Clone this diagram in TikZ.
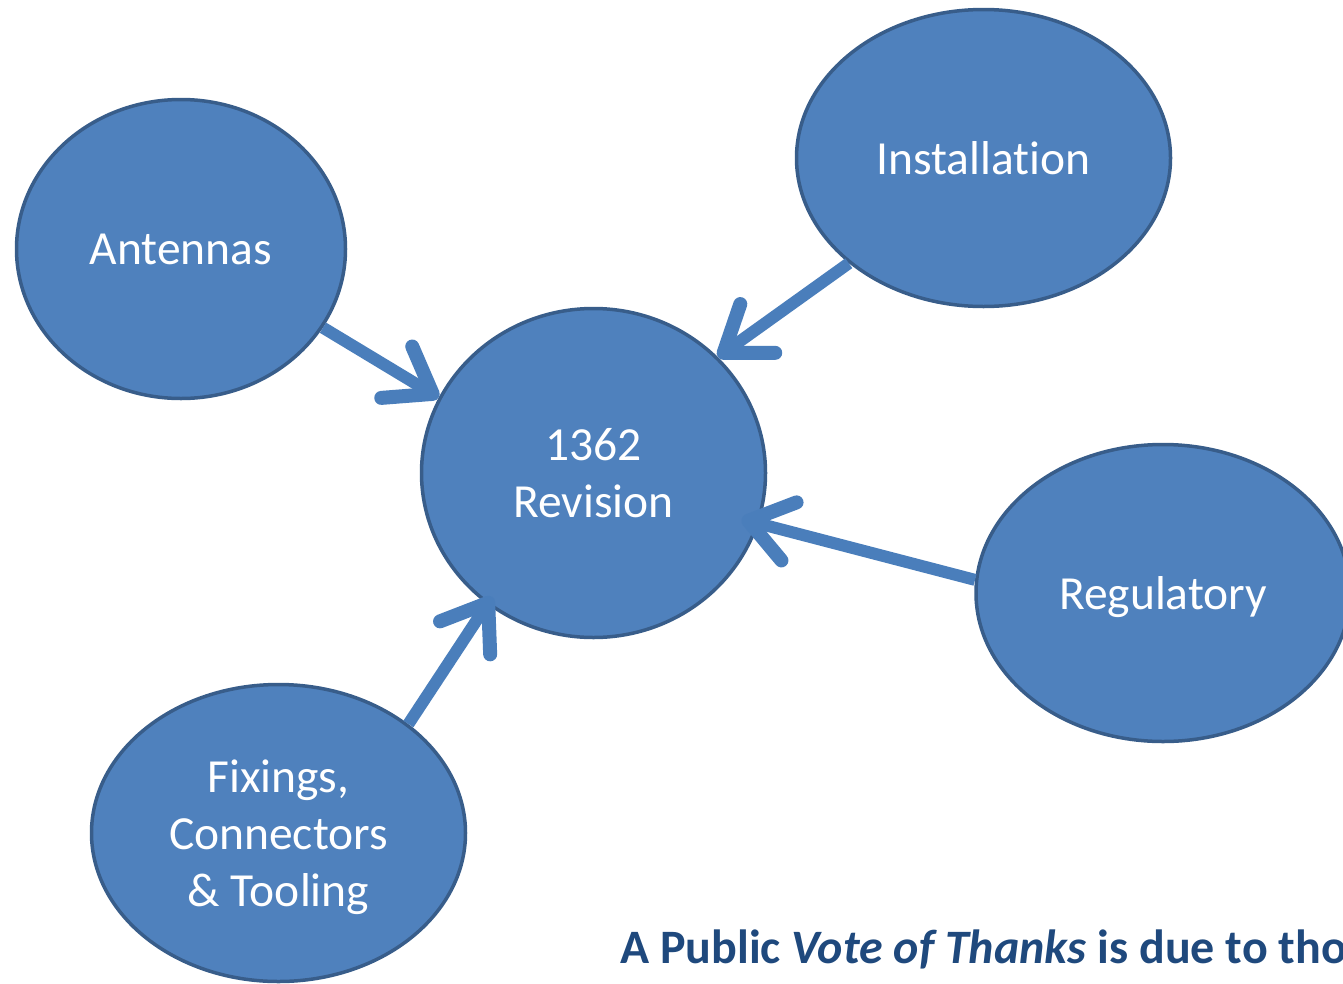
\documentclass[tikz,border=0pt]{standalone}
\usepackage{fontspec}
\setmainfont[Ligatures=NoCommon]{Carlito}
\usetikzlibrary{shapes.geometric,arrows.meta}
\definecolor{bubblefill}{HTML}{4F81BD}
\definecolor{bubbleedge}{HTML}{385D8A}
\definecolor{arrowblue}{HTML}{4A7EBB}
\definecolor{thankblue}{HTML}{1F497D}
\tikzset{
  bubble/.style={ellipse, fill=bubblefill, draw=bubbleedge, line width=3.5pt,
    inner sep=0pt, text=white, align=center, text depth=0pt,
    font=\fontsize{47.5}{57}\selectfont},
  feed/.style={draw=arrowblue, line width=12pt,
    -{Straight Barb[length=42pt,width=60pt,line width=14pt,round]}}
}
\begin{document}
\begin{tikzpicture}[x=1pt,y=-1pt]
\useasboundingbox (0,0) rectangle (1343,983);
\clip (0,0) rectangle (1343,983);
\node[bubble, minimum width=329pt, minimum height=299pt] (ant) at (181,249) {Antennas};
\node[bubble, minimum width=374pt, minimum height=297pt] (ins) at (983.5,158) {Installation};
\node[bubble, minimum width=344pt, minimum height=329pt] (rev) at (593.5,473) {1362\\Revision};
\node[bubble, minimum width=374pt, minimum height=297pt] (reg) at (1163,593) {Regulatory};
\node[bubble, minimum width=374pt, minimum height=297pt] (fix) at (278.5,833) {Fixings,\\Connectors\\\& Tooling};
\draw[feed] (ant.-29) -- (rev.154.6);
\draw[feed] (ins.218.8) -- (rev.43.3);
\draw[feed, shorten >=-18pt] (reg.176) -- (rev.-17.4);
\draw[feed, shorten >=-9pt] (fix.40.4) -- (rev.-129.3);
\node[anchor=base west, text=thankblue, font=\fontsize{48}{56}\selectfont\bfseries, inner sep=0pt] (thanks) at (620,963) {A Public \textit{Vote of Thanks} is due to those};
\end{tikzpicture}
\end{document}
